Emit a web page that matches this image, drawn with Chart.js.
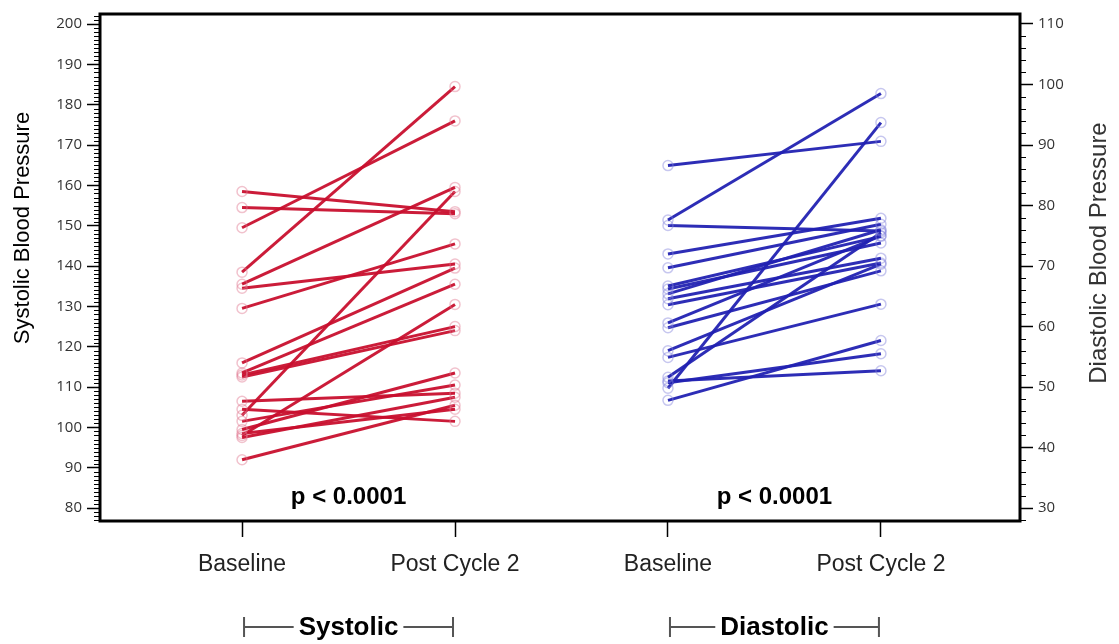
<!DOCTYPE html>
<html>
<head>
<meta charset="utf-8">
<script src="https://cdn.jsdelivr.net/npm/chart.js@4"></script>
<style>
  html, body { margin: 0; padding: 0; background: #fff; }
  #wrap { width: 1119px; height: 644px; position: relative; }
</style>
</head>
<body>
<div id="wrap"><canvas id="bp"></canvas></div>
<script>
// x positions + labels
const xPos = [0, 1, 2, 3];
const xLabels = ['Baseline', 'Post Cycle 2', 'Baseline', 'Post Cycle 2'];
const groupLabels = ['Systolic', 'Diastolic'];
const pLabels = ['p < 0.0001', 'p < 0.0001'];

// systolic pairs (left axis)
const sysBase = [158.5, 154.5, 149.5, 138.5, 135.5, 134.5, 129.5, 116, 113.5, 113, 112.5, 106.5, 104.5, 103, 101.5, 99.5, 98, 97.5, 98.5, 92];
const sysPost = [153.5, 153, 176, 184.5, 159.5, 140.5, 145.5, 139.5, 135.5, 125, 124, 108.5, 101.5, 158.5, 110.5, 113.5, 130.5, 107.5, 104.5, 105.5];

// diastolic pairs (right axis)
const diaBase = [86.6, 77.6, 76.7, 72.0, 69.7, 66.7, 66.2, 65.4, 64.6, 63.6, 60.6, 59.8, 56.0, 54.9, 51.6, 50.7, 49.8, 47.8, 51.0];
const diaPost = [90.6, 98.5, 75.8, 77.9, 76.9, 74.9, 73.8, 76.0, 71.3, 70.5, 75.0, 69.2, 70.3, 63.7, 75.5, 55.5, 93.7, 57.7, 52.7];

const sysTicks = [80, 90, 100, 110, 120, 130, 140, 150, 160, 170, 180, 190, 200];
const diaTicks = [30, 40, 50, 60, 70, 80, 90, 100, 110];

const RED = 'rgba(200,16,46,0.95)';
const RED_PT = 'rgba(225,120,145,0.45)';
const BLUE = 'rgba(34,34,178,0.95)';
const BLUE_PT = 'rgba(130,130,220,0.45)';

const datasets = [];
sysBase.forEach((v, i) => {
  datasets.push({
    data: [{x: xPos[0], y: v}, {x: xPos[1], y: sysPost[i]}],
    yAxisID: 'y',
    borderColor: RED,
    pointBorderColor: RED_PT
  });
});
diaBase.forEach((v, i) => {
  datasets.push({
    data: [{x: xPos[2], y: v}, {x: xPos[3], y: diaPost[i]}],
    yAxisID: 'y2',
    borderColor: BLUE,
    pointBorderColor: BLUE_PT
  });
});

const SANS = "'Liberation Sans', Arial, sans-serif";

// frame, minor ticks, p values, brackets, axis titles
const decor = {
  id: 'decor',
  afterDraw(chart) {
    const {ctx, chartArea: a, scales} = chart;
    const xs = scales.x;
    ctx.save();

    ctx.strokeStyle = '#000';
    ctx.lineWidth = 3;
    ctx.strokeRect(a.left, a.top, a.right - a.left, a.bottom - a.top);

    ctx.lineWidth = 1;
    ctx.beginPath();
    for (let v = 77; v <= 202; v++) {
      if (v % 10 === 0) continue;
      const py = Math.round(scales.y.getPixelForValue(v)) + 0.5;
      ctx.moveTo(a.left - 6, py);
      ctx.lineTo(a.left, py);
    }
    for (let v = 28; v <= 111; v += 2) {
      if (v % 10 === 0) continue;
      const py = Math.round(scales.y2.getPixelForValue(v)) + 0.5;
      ctx.moveTo(a.right, py);
      ctx.lineTo(a.right + 6, py);
    }
    ctx.stroke();

    ctx.fillStyle = '#000';
    ctx.textAlign = 'center';
    ctx.textBaseline = 'middle';
    ctx.font = 'bold 24px ' + SANS;
    for (let g = 0; g < 2; g++) {
      const cx = (xs.getPixelForValue(xPos[g * 2]) + xs.getPixelForValue(xPos[g * 2 + 1])) / 2;
      ctx.fillText(pLabels[g], cx, 497);
    }

    // group brackets under the axis
    ctx.font = 'bold 26px ' + SANS;
    for (let g = 0; g < 2; g++) {
      const x0 = xs.getPixelForValue(xPos[g * 2]) + 2;
      const x1 = xs.getPixelForValue(xPos[g * 2 + 1]) - 2;
      const cx = (x0 + x1) / 2;
      const yy = 627;
      const tw = ctx.measureText(groupLabels[g]).width;
      ctx.strokeStyle = '#555';
      ctx.lineWidth = 2;
      ctx.beginPath();
      ctx.moveTo(x0, yy - 10); ctx.lineTo(x0, yy + 10);
      ctx.moveTo(x1, yy - 10); ctx.lineTo(x1, yy + 10);
      ctx.moveTo(x0, yy); ctx.lineTo(cx - tw / 2 - 5, yy);
      ctx.moveTo(cx + tw / 2 + 5, yy); ctx.lineTo(x1, yy);
      ctx.stroke();
      ctx.fillStyle = '#000';
      ctx.fillText(groupLabels[g], cx, yy + 1);
    }

    // axis titles
    ctx.font = '22px ' + SANS;
    ctx.fillStyle = '#000';
    ctx.save();
    ctx.translate(23, 228);
    ctx.rotate(-Math.PI / 2);
    ctx.fillText('Systolic Blood Pressure', 0, 0);
    ctx.restore();

    ctx.font = '24px ' + SANS;
    ctx.fillStyle = '#333';
    ctx.save();
    ctx.translate(1099, 253);
    ctx.rotate(-Math.PI / 2);
    ctx.fillText('Diastolic Blood Pressure', 0, 0);
    ctx.restore();

    ctx.restore();
  }
};

new Chart(document.getElementById('bp'), {
  type: 'line',
  data: {datasets: datasets},
  plugins: [decor],
  options: {
    responsive: true,
    maintainAspectRatio: false,
    animation: false,
    layout: {padding: {top: 12, left: 0, right: 0, bottom: 0}},
    elements: {
      line: {borderWidth: 3, tension: 0},
      point: {radius: 5, borderWidth: 1.5, backgroundColor: 'rgba(255,255,255,0)'}
    },
    plugins: {legend: {display: false}, tooltip: {enabled: false}},
    scales: {
      x: {
        type: 'linear',
        min: -0.667,
        max: 3.653,
        afterBuildTicks: (s) => { s.ticks = xPos.map(v => ({value: v})); },
        afterFit: (s) => { s.height = 123; },
        grid: {drawOnChartArea: false, tickLength: 16, tickColor: '#000', tickWidth: 1.5},
        border: {display: false},
        ticks: {
          autoSkip: false,
          maxRotation: 0,
          padding: 14,
          color: '#222',
          font: {family: SANS, size: 23},
          callback: (v) => xLabels[v]
        }
      },
      y: {
        position: 'left',
        min: 76.8,
        max: 202.5,
        afterBuildTicks: (s) => { s.ticks = sysTicks.map(v => ({value: v})); },
        afterFit: (s) => { s.width = 100; },
        grid: {drawOnChartArea: false, tickLength: 13, tickColor: '#000', tickWidth: 1.5},
        border: {display: false},
        ticks: {padding: 5, color: '#333', font: {family: "'Open Sans', sans-serif", size: 15}}
      },
      y2: {
        position: 'right',
        min: 27.86,
        max: 111.65,
        afterBuildTicks: (s) => { s.ticks = diaTicks.map(v => ({value: v})); },
        afterFit: (s) => { s.width = 99; },
        grid: {drawOnChartArea: false, tickLength: 13, tickColor: '#000', tickWidth: 1.5},
        border: {display: false},
        ticks: {padding: 5, color: '#333', font: {family: "'Open Sans', sans-serif", size: 15}}
      }
    }
  }
});
</script>
</body>
</html>
